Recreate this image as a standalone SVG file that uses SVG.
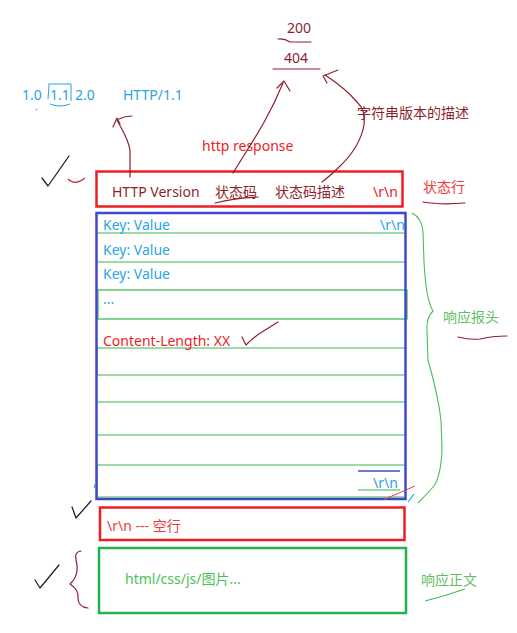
<svg xmlns="http://www.w3.org/2000/svg" width="517" height="633" viewBox="0 0 517 633">
<style>
text{font-family:"Noto Sans","Noto Sans CJK SC","Liberation Sans",sans-serif;font-size:14px}
.dr{fill:#8e1f2e}
.rd{fill:#ee1c25}
.bl{fill:#2aa4e4}
.gr{fill:#3bb54a}
.lg{fill:#62c062}
.ink{fill:none;stroke:#8e1f2e;stroke-width:1.2;stroke-linecap:round;stroke-linejoin:round}
.blk{fill:none;stroke:#222;stroke-width:1.3;stroke-linecap:round;stroke-linejoin:round}
.row{stroke:#7ccf88;stroke-width:1.5}
</style>
<rect width="517" height="633" fill="#fff"/>

<g id="version-options">
<text x="22" y="100" class="bl">1.0</text>
<text x="50" y="100" class="bl">1.1</text>
<text x="75" y="100" class="bl">2.0</text>
<path d="M49,85 L48,99 M48,84 L71,84 L71,101 M50,104 Q60,108 70,104" fill="none" stroke="#2aa4e4" stroke-width="1"/>
<circle cx="36.5" cy="109.5" r="0.8" fill="#2aa4e4"/>
<text x="123" y="100" class="bl">HTTP/1.1</text>
</g>

<g id="status-codes">
<text x="287" y="33" class="dr">200</text>
<path d="M278,39 Q284,38 290,42 L311,42" class="ink"/>
<text x="284" y="63" class="dr">404</text>
<path d="M273,69 L320,69" class="ink"/>
</g>

<g id="desc-label">
<text x="357" y="118" class="dr">字符串版本的描述</text>
</g>

<g id="http-response-label">
<text x="202" y="151" class="rd">http response</text>
</g>

<g id="status-line">
<rect x="96.5" y="171.5" width="306" height="35" fill="none" stroke="#ee1c25" stroke-width="2.5"/>
<text x="112" y="197" class="dr">HTTP Version</text>
<text x="215" y="197" class="dr">状态码</text>
<text x="275" y="197" class="dr">状态码描述</text>
<text x="373" y="197" class="rd">\r\n</text>
<path d="M215,203 Q235,198 258,197" class="ink"/>
</g>

<g id="status-line-label">
<text x="423" y="192" style="fill:#ee3a3a">状态行</text>
<path d="M423,202 Q440,205 465,203" class="ink"/>
</g>

<g id="headers">
<line x1="97" y1="233" x2="405" y2="233" class="row"/>
<line x1="97" y1="262" x2="405" y2="262" class="row"/>
<rect x="98" y="290" width="309" height="29" fill="none" stroke="#5cc46c" stroke-width="1.5"/>
<line x1="97" y1="348" x2="405" y2="348" class="row"/>
<line x1="97" y1="375" x2="405" y2="375" class="row"/>
<line x1="97" y1="348" x2="97" y2="375" class="row"/>
<line x1="97" y1="402" x2="405" y2="402" class="row"/>
<line x1="97" y1="435" x2="405" y2="435" class="row"/>
<line x1="97" y1="465" x2="405" y2="465" class="row"/>
<line x1="97" y1="465" x2="97" y2="497" class="row"/>
<line x1="97" y1="497" x2="405" y2="497" class="row"/>
<rect x="96.5" y="213" width="309" height="286" fill="none" stroke="#3f48cc" stroke-width="2.5"/>
<text x="103" y="230" class="bl">Key: Value</text>
<text x="380" y="230" class="bl">\r\n</text>
<text x="103" y="255" class="bl">Key: Value</text>
<text x="103" y="279" class="bl">Key: Value</text>
<text x="103" y="304" class="bl">...</text>
<text x="103" y="346" class="rd">Content-Length: XX</text>
<line x1="358" y1="471" x2="400" y2="471" stroke="#3f48cc" stroke-width="1.5"/>
<text x="373" y="488" class="bl">\r\n</text>
<line x1="358" y1="490" x2="400" y2="490" stroke="#3bb54a" stroke-width="1.2"/>
<line x1="383" y1="500" x2="415" y2="486" stroke="#f04040" stroke-width="1"/>
<line x1="408" y1="502" x2="414" y2="494" stroke="#2aa4e4" stroke-width="1.2"/>
<line x1="94" y1="488" x2="95" y2="484" stroke="#2aa4e4" stroke-width="1"/>
</g>

<g id="headers-label">
<path d="M412,213 Q422,218 423,232 L424,262 Q426,300 433,311 Q426,318 427,330 L428,360 Q438,395 441,420 L442,450 Q441,475 434,486 Q426,495 418,503" fill="none" stroke="#4cbb5c" stroke-width="1.1"/>
<text x="443" y="322" class="lg">响应报头</text>
<path d="M458,337 Q470,340 480,339 Q492,336 507,336" class="ink"/>
</g>

<g id="empty-line">
<rect x="100" y="507.5" width="304.5" height="32.5" fill="none" stroke="#ee1c25" stroke-width="2.5"/>
<text x="107" y="531" style="fill:#ee3a3a">\r\n --- 空行</text>
</g>

<g id="body">
<rect x="99" y="548" width="307" height="65" fill="none" stroke="#22b14c" stroke-width="2.5"/>
<text x="125" y="584" style="fill:#4cbf5a">html/css/js/图片...</text>
</g>

<g id="body-label">
<text x="421" y="585" class="lg">响应正文</text>
<path d="M425,601 Q445,596 465,589" fill="none" stroke="#3bb54a" stroke-width="1"/>
</g>

<g id="connectors">
<path d="M130,177 L130,150 C128,138 122,130 117,120" class="ink"/>
<path d="M113,127 L117,118 L120,124 M119,119 Q125,116 132,116" class="ink"/>
<path d="M233,173 C250,145 268,120 283,83" class="ink"/>
<path d="M277,88 L284,81 L290,91" class="ink"/>
<path d="M322,182 Q330,176 337,169 Q360,148 364,125 Q366,110 357,102 Q345,88 325,75" class="ink"/>
<path d="M327,83 L323,76 L338,70" class="ink"/>
</g>

<g id="marks">
<path d="M42,178 L48,186 L69,156" class="blk"/>
<path d="M68,179 Q75,186 85,178" fill="none" stroke="#c0303a" stroke-width="1.2"/>
<path d="M242,337 L246,345 Q255,336 262,332 L278,322" class="ink"/>
<path d="M72,507 L76,518 L91,501" class="blk"/>
<path d="M35,580 L40,588 L59,565" class="blk"/>
<path d="M81,551 Q74,552 76,560 Q80,575 70,584 Q79,590 78,598 Q78,607 88,608" class="ink"/>
</g>
</svg>
